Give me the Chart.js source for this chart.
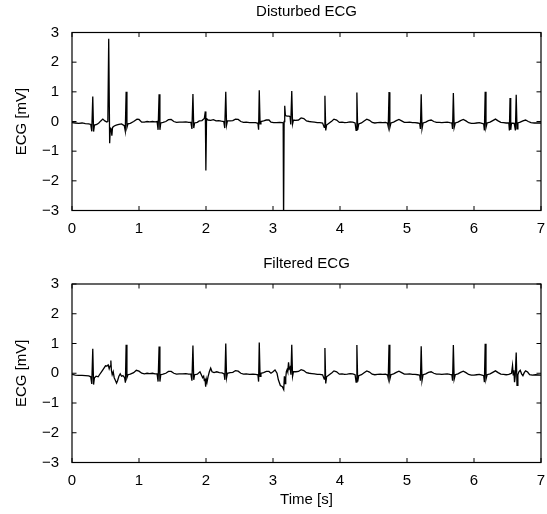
<!DOCTYPE html>
<html><head><meta charset="utf-8">
<script src="https://cdn.jsdelivr.net/npm/chart.js@4/dist/chart.umd.min.js"></script>
<style>
html,body{margin:0;padding:0;background:#fff;}
#w{position:relative;width:547px;height:514px;background:#fff;}
#c1{position:absolute;left:0;top:0;}
#c2{position:absolute;left:0;top:250px;}
</style></head><body>
<div id="w"><canvas id="c1" width="547" height="250"></canvas><canvas id="c2" width="547" height="264"></canvas></div>
<script>
// ---- data (time [s], ECG [mV]) ----
const titleTop = "Disturbed ECG";
const titleBottom = "Filtered ECG";
const xLabel = "Time [s]";
const yLabel = "ECG [mV]";
const xTicks = [0,1,2,3,4,5,6,7];
const yTicks = [-3,-2,-1,0,1,2,3];

const disturbed = [
[0.00,-0.04],[0.05,-0.05],[0.10,-0.06],[0.15,-0.05],[0.20,-0.07],[0.25,-0.08],[0.28,-0.10],
[0.295,-0.33],[0.31,0.84],[0.322,-0.34],[0.335,-0.12],[0.37,-0.10],[0.40,-0.05],[0.43,0.02],
[0.46,0.08],[0.49,0.02],[0.52,-0.02],[0.535,0.00],[0.548,2.79],[0.562,-0.73],[0.572,-0.22],
[0.585,-0.25],[0.595,-0.48],[0.605,-0.20],[0.63,-0.15],[0.66,-0.12],[0.70,-0.10],[0.74,-0.08],
[0.78,-0.14],[0.795,-0.32],[0.808,1.00],[0.82,-0.20],[0.835,-0.08],[0.87,-0.06],[0.92,0.00],
[0.97,0.08],[1.00,0.07],[1.04,-0.02],[1.08,-0.02],[1.12,0.00],[1.16,-0.01],[1.20,0.00],
[1.24,-0.01],[1.27,0.00],[1.285,-0.28],[1.30,0.92],[1.312,-0.28],[1.325,-0.05],[1.36,-0.03],
[1.40,0.00],[1.44,0.06],[1.48,0.07],[1.52,0.00],[1.56,-0.03],[1.60,-0.02],[1.65,-0.02],
[1.70,-0.01],[1.74,-0.03],[1.775,-0.03],[1.79,-0.25],[1.805,0.93],[1.817,-0.22],[1.83,-0.05],
[1.87,-0.03],[1.90,0.02],[1.94,0.03],[1.975,0.10],[1.99,0.34],[1.998,-1.65],[2.008,0.10],
[2.03,0.05],[2.07,0.04],[2.11,0.06],[2.15,0.02],[2.19,0.03],[2.23,0.01],[2.265,0.00],
[2.28,-0.22],[2.295,1.00],[2.307,-0.12],[2.32,0.02],[2.36,0.02],[2.40,0.03],[2.44,0.08],
[2.48,0.07],[2.52,0.00],[2.56,-0.03],[2.60,-0.02],[2.65,-0.04],[2.70,-0.04],[2.74,-0.04],
[2.775,-0.06],[2.785,-0.28],[2.795,1.05],[2.807,-0.08],[2.82,0.00],[2.86,0.02],[2.90,0.05],
[2.94,0.05],[2.97,-0.02],[3.01,-0.04],[3.05,-0.04],[3.10,-0.03],[3.14,-0.04],[3.152,-0.05],
[3.158,-3.40],[3.166,0.00],[3.175,0.53],[3.185,0.20],[3.21,0.18],[3.24,0.18],[3.255,0.16],
[3.265,-0.10],[3.28,1.03],[3.292,-0.08],[3.305,0.05],[3.34,0.04],[3.38,0.05],[3.42,0.12],
[3.46,0.10],[3.50,0.02],[3.54,0.00],[3.58,-0.01],[3.62,-0.02],[3.66,-0.04],[3.70,-0.04],
[3.74,-0.05],[3.765,-0.20],[3.775,0.87],[3.787,-0.30],[3.80,-0.12],[3.84,-0.05],[3.88,0.02],
[3.91,0.08],[3.95,0.05],[3.99,-0.03],[4.03,-0.02],[4.07,-0.04],[4.11,-0.03],[4.15,-0.01],
[4.19,-0.02],[4.225,-0.05],[4.24,-0.30],[4.252,0.98],[4.264,-0.28],[4.28,-0.08],[4.32,-0.05],
[4.36,0.02],[4.40,0.08],[4.44,0.04],[4.48,-0.03],[4.52,-0.05],[4.56,-0.04],[4.60,-0.03],
[4.64,-0.04],[4.68,-0.03],[4.71,-0.06],[4.72,-0.17],[4.732,0.99],[4.744,-0.20],[4.76,-0.05],
[4.80,-0.02],[4.84,0.03],[4.88,0.07],[4.92,0.02],[4.96,-0.03],[5.00,-0.03],[5.04,-0.02],
[5.08,-0.04],[5.12,-0.04],[5.16,-0.05],[5.19,-0.07],[5.20,-0.25],[5.212,0.92],[5.224,-0.25],
[5.24,-0.05],[5.28,-0.02],[5.32,0.03],[5.36,0.05],[5.40,0.00],[5.44,-0.03],[5.48,-0.03],
[5.52,-0.04],[5.56,-0.03],[5.60,-0.02],[5.64,-0.04],[5.67,-0.05],[5.68,-0.25],[5.692,0.96],
[5.704,-0.20],[5.72,-0.05],[5.76,-0.02],[5.80,0.03],[5.84,0.07],[5.88,0.02],[5.92,-0.04],
[5.96,-0.06],[6.00,-0.06],[6.04,-0.05],[6.08,-0.04],[6.12,-0.06],[6.145,-0.08],[6.155,-0.30],
[6.167,1.00],[6.179,-0.20],[6.195,-0.05],[6.24,-0.02],[6.28,0.03],[6.32,0.08],[6.36,0.02],
[6.40,-0.03],[6.44,-0.04],[6.48,-0.05],[6.52,-0.05],[6.528,-0.30],[6.538,0.79],[6.548,-0.28],
[6.56,-0.05],[6.60,-0.06],[6.618,-0.30],[6.63,0.90],[6.642,-0.25],[6.655,-0.05],[6.69,-0.02],
[6.73,0.02],[6.77,0.05],[6.81,0.00],[6.85,-0.04],[6.90,-0.05],[6.95,-0.05],[7.00,-0.05]
];

const filtered = [
[0.00,-0.04],[0.05,-0.06],[0.10,-0.07],[0.15,-0.07],[0.20,-0.08],[0.25,-0.09],[0.28,-0.12],
[0.295,-0.36],[0.31,0.82],[0.322,-0.38],[0.335,-0.15],[0.36,-0.10],[0.39,-0.12],[0.41,-0.05],
[0.44,0.05],[0.47,0.15],[0.50,0.25],[0.52,0.24],[0.54,0.28],[0.555,0.15],[0.57,0.25],
[0.58,0.43],[0.588,0.10],[0.60,-0.05],[0.615,0.05],[0.63,-0.15],[0.65,-0.25],[0.665,-0.33],
[0.68,-0.25],[0.70,-0.10],[0.72,-0.02],[0.74,-0.10],[0.76,-0.08],[0.785,-0.15],[0.797,-0.32],
[0.808,0.96],[0.82,-0.15],[0.835,-0.05],[0.87,-0.03],[0.92,0.02],[0.96,0.10],[1.00,0.07],
[1.04,0.00],[1.08,-0.02],[1.12,0.00],[1.16,-0.01],[1.20,0.00],[1.24,-0.02],[1.27,-0.02],
[1.285,-0.28],[1.30,0.90],[1.312,-0.28],[1.325,-0.05],[1.36,-0.03],[1.40,0.00],[1.44,0.06],
[1.48,0.06],[1.52,0.00],[1.56,-0.03],[1.60,-0.02],[1.65,-0.02],[1.70,-0.01],[1.74,-0.03],
[1.775,-0.03],[1.79,-0.25],[1.805,0.93],[1.817,-0.22],[1.83,-0.05],[1.87,-0.03],[1.91,0.05],
[1.93,-0.05],[1.95,-0.15],[1.965,-0.10],[1.975,-0.25],[1.985,-0.18],[1.995,-0.45],[2.005,-0.20],
[2.015,-0.30],[2.03,-0.12],[2.05,0.05],[2.07,0.17],[2.09,0.05],[2.12,0.02],[2.16,0.05],
[2.20,0.02],[2.24,0.01],[2.27,-0.02],[2.282,-0.22],[2.295,1.00],[2.307,-0.15],[2.32,0.00],
[2.36,0.02],[2.40,0.03],[2.44,0.09],[2.48,0.07],[2.52,0.00],[2.56,-0.03],[2.60,-0.02],
[2.65,-0.04],[2.70,-0.03],[2.74,-0.04],[2.775,-0.05],[2.785,-0.28],[2.795,1.03],[2.807,-0.10],
[2.82,0.00],[2.86,0.02],[2.90,0.06],[2.94,0.06],[2.97,0.00],[3.00,0.05],[3.03,0.11],
[3.06,0.00],[3.08,-0.22],[3.11,-0.41],[3.14,-0.45],[3.16,-0.55],[3.17,-0.10],[3.18,-0.35],
[3.19,-0.15],[3.20,0.06],[3.21,0.12],[3.22,0.05],[3.232,0.37],[3.242,0.15],[3.255,0.20],
[3.268,-0.05],[3.28,0.96],[3.292,-0.10],[3.305,0.05],[3.34,0.05],[3.38,0.06],[3.42,0.12],
[3.46,0.09],[3.50,0.02],[3.54,0.00],[3.58,-0.01],[3.62,-0.02],[3.66,-0.04],[3.70,-0.04],
[3.74,-0.05],[3.765,-0.20],[3.775,0.85],[3.787,-0.34],[3.80,-0.12],[3.84,-0.05],[3.88,0.02],
[3.91,0.08],[3.95,0.05],[3.99,-0.03],[4.03,-0.02],[4.07,-0.04],[4.11,-0.03],[4.15,-0.01],
[4.19,-0.02],[4.225,-0.05],[4.24,-0.30],[4.252,0.95],[4.264,-0.28],[4.28,-0.08],[4.32,-0.05],
[4.36,0.02],[4.40,0.08],[4.44,0.04],[4.48,-0.03],[4.52,-0.05],[4.56,-0.04],[4.60,-0.03],
[4.64,-0.04],[4.68,-0.03],[4.71,-0.06],[4.72,-0.17],[4.732,0.96],[4.744,-0.20],[4.76,-0.05],
[4.80,-0.02],[4.84,0.03],[4.88,0.07],[4.92,0.02],[4.96,-0.03],[5.00,-0.03],[5.04,-0.02],
[5.08,-0.04],[5.12,-0.04],[5.16,-0.05],[5.19,-0.07],[5.20,-0.25],[5.212,0.91],[5.224,-0.25],
[5.24,-0.05],[5.28,-0.02],[5.32,0.03],[5.36,0.05],[5.40,0.00],[5.44,-0.03],[5.48,-0.03],
[5.52,-0.04],[5.56,-0.03],[5.60,-0.02],[5.64,-0.04],[5.67,-0.05],[5.68,-0.25],[5.692,0.95],
[5.704,-0.20],[5.72,-0.05],[5.76,-0.02],[5.80,0.03],[5.84,0.07],[5.88,0.02],[5.92,-0.04],
[5.96,-0.06],[6.00,-0.06],[6.04,-0.05],[6.08,-0.04],[6.12,-0.06],[6.145,-0.08],[6.155,-0.30],
[6.167,0.99],[6.179,-0.20],[6.195,-0.05],[6.24,-0.02],[6.28,0.03],[6.32,0.08],[6.36,0.02],
[6.40,-0.03],[6.44,-0.04],[6.48,-0.05],[6.52,-0.04],[6.56,0.00],[6.575,0.26],[6.585,-0.05],
[6.595,0.10],[6.605,-0.30],[6.615,-0.10],[6.63,0.70],[6.642,-0.41],[6.655,-0.05],[6.67,0.05],
[6.69,0.10],[6.71,-0.02],[6.73,-0.08],[6.75,0.02],[6.77,0.08],[6.80,0.04],[6.83,-0.05],
[6.87,-0.06],[6.92,-0.05],[7.00,-0.06]
];

// ---- rendering ----
const FONT = "'Liberation Sans', Arial, Helvetica, sans-serif";
const FS = 15;
Chart.defaults.font.family = FONT;
Chart.defaults.font.size = FS;
Chart.defaults.color = '#000';

const frame = {
  id: 'frame',
  afterDatasetsDraw(chart) {
    const {ctx, chartArea: a, scales: {x, y}} = chart;
    const tl = 4.5;
    ctx.save();
    ctx.strokeStyle = '#000';
    ctx.lineWidth = 1;
    ctx.beginPath();
    xTicks.forEach(v => {
      const p = x.getPixelForValue(v);
      ctx.moveTo(p, a.bottom); ctx.lineTo(p, a.bottom - tl);
      ctx.moveTo(p, a.top); ctx.lineTo(p, a.top + tl);
    });
    yTicks.forEach(v => {
      const p = y.getPixelForValue(v);
      ctx.moveTo(a.left, p); ctx.lineTo(a.left + tl, p);
      ctx.moveTo(a.right, p); ctx.lineTo(a.right - tl, p);
    });
    ctx.stroke();
    ctx.lineWidth = 1.2;
    ctx.strokeRect(a.left, a.top, a.right - a.left, a.bottom - a.top);
    ctx.restore();
  }
};

function makeChart(id, series, title, titlePad, axisH, showXTitle) {
  const canvas = document.getElementById(id);
  return new Chart(canvas, {
    type: 'line',
    data: {
      datasets: [{
        data: series.map(p => ({x: p[0], y: p[1]})),
        borderColor: '#000',
        borderWidth: 1.3,
        pointRadius: 0,
        tension: 0,
        fill: false
      }]
    },
    options: {
      responsive: false,
      animation: false,
      events: [],
      layout: {padding: {left: 0, right: 6, top: 0, bottom: 0}},
      plugins: {
        legend: {display: false},
        tooltip: {enabled: false},
        title: {display: true, text: title, color: '#000', fullSize: false,
                font: {size: FS, weight: 'normal', family: FONT},
                padding: titlePad}
      },
      scales: {
        x: {
          type: 'linear', min: 0, max: 7,
          grid: {display: false, drawTicks: false}, border: {display: false},
          ticks: {stepSize: 1, padding: 9.5, maxRotation: 0, autoSkip: false,
                  callback: v => String(v)},
          afterBuildTicks: s => { s.ticks = xTicks.map(v => ({value: v})); },
          afterFit: s => { s.height = axisH; s.paddingLeft = 0; s.paddingRight = 0; },
          title: {display: showXTitle, text: xLabel, font: {size: FS, family: FONT},
                  padding: {top: 0, bottom: 5}}
        },
        y: {
          type: 'linear', min: -3, max: 3,
          grid: {display: false, drawTicks: false}, border: {display: false},
          ticks: {stepSize: 1, padding: 13,
                  callback: v => (v < 0 ? '\u2212' + Math.abs(v) : String(v))},
          afterBuildTicks: s => { s.ticks = yTicks.map(v => ({value: v})); },
          afterFit: s => { s.width = 72; s.paddingTop = 0; s.paddingBottom = 0; },
          title: {display: true, text: yLabel, font: {size: FS, family: FONT},
                  padding: {top: 13, bottom: 0}}
        }
      }
    },
    plugins: [frame]
  });
}

makeChart('c1', disturbed, titleTop, {top: 3, bottom: 11.5}, 250 - 210.5, false);
makeChart('c2', filtered, titleBottom, {top: 5, bottom: 11}, 264 - 212.5, true);
</script>
</body></html>
